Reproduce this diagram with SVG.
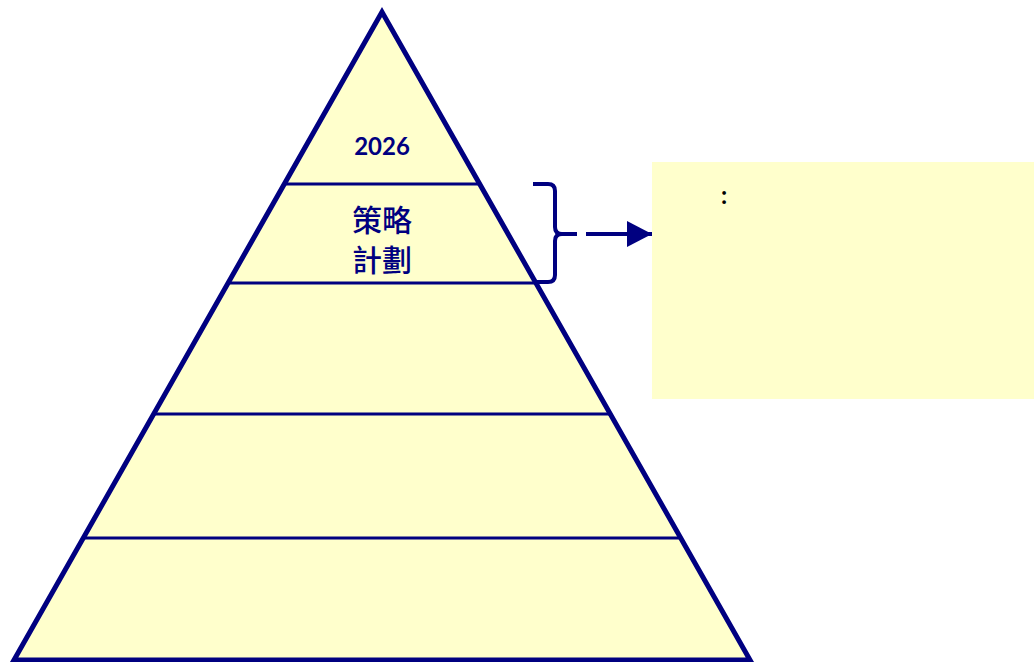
<svg xmlns="http://www.w3.org/2000/svg" width="1034" height="662" viewBox="0 0 1034 662">
  <style>
    .tier { fill: #FFFFCC; }
    .edge { fill: none; stroke: #000080; stroke-width: 5; stroke-linejoin: miter; }
    .sep { stroke: #000080; stroke-width: 3; }
    .lbl { fill: #000080; font-family: Lato, "Noto Sans CJK TC", sans-serif; text-anchor: middle; }
    .cjk { fill: #000080; font-family: "Noto Sans CJK TC", sans-serif; text-anchor: middle; font-size: 30px; font-weight: 500; }
    .conn { fill: none; stroke: #000080; stroke-width: 4; }
  </style>
  <defs>
    <marker id="arrow" markerWidth="25" markerHeight="26" refX="25" refY="13" orient="auto" markerUnits="userSpaceOnUse">
      <path d="M0,0 L25,13 L0,26 Z" fill="#000080"/>
    </marker>
  </defs>

  <g id="pyramid">
    <polygon class="tier" points="382,12 14,660 750,660"/>
    <line class="sep" x1="284" y1="184" x2="480" y2="184"/>
    <line class="sep" x1="228" y1="283" x2="536" y2="283"/>
    <line class="sep" x1="154" y1="414" x2="610" y2="414"/>
    <line class="sep" x1="83" y1="538" x2="681" y2="538"/>
    <polygon class="edge" points="382,12 14,660 750,660"/>
  </g>

  <g id="tier-top">
    <text class="lbl" x="382" y="155" font-size="24" font-weight="bold">2026</text>
  </g>

  <g id="tier-strategy">
    <text class="cjk" x="382" y="231">策略</text>
    <text class="cjk" x="382" y="271">計劃</text>
  </g>

  <g id="note">
    <rect x="652" y="162" width="382" height="237" fill="#FFFFCC"/>
    <text x="724" y="204" font-family="Lato, 'Liberation Sans', sans-serif" font-size="24" font-weight="bold" fill="#000000" text-anchor="middle">:</text>
  </g>

  <g id="connectors">
    <path class="conn" d="M533,184 L548,184 Q555,184 555,191 L555,227 Q555,234 562,234 L577,234 M562,234 Q555,234 555,241 L555,275 Q555,282 548,282 L533,282"/>
    <line class="conn" x1="586" y1="234" x2="652" y2="234" marker-end="url(#arrow)"/>
  </g>
</svg>
